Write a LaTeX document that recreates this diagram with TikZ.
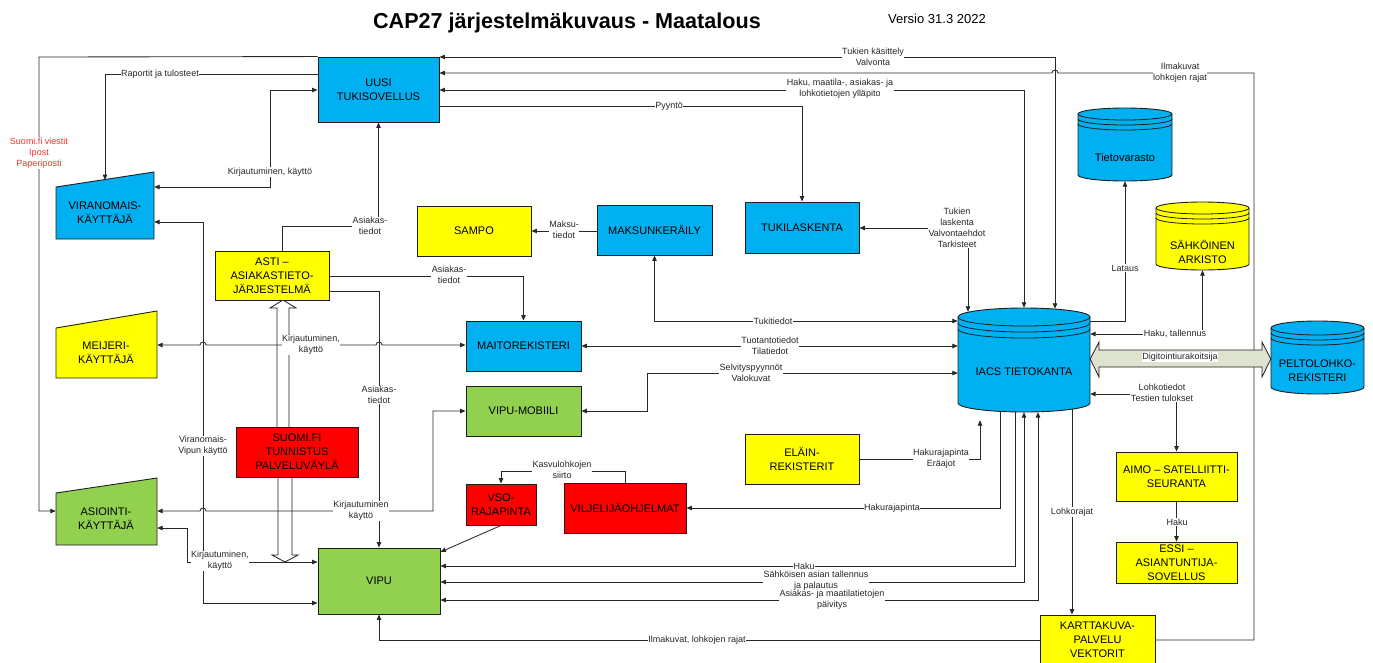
\documentclass[tikz,border=0pt]{standalone}
\usepackage{fontspec}
\setmainfont{Liberation Sans}
\usetikzlibrary{arrows.meta,calc}

\definecolor{cblue}{RGB}{0,176,240}
\definecolor{cyel}{RGB}{255,255,0}
\definecolor{cgreen}{RGB}{146,208,80}
\definecolor{cred}{RGB}{255,0,0}
\definecolor{cline}{RGB}{40,40,40}
\definecolor{cedge}{RGB}{30,30,30}
\definecolor{cdig}{RGB}{221,227,207}
\definecolor{cmsg}{RGB}{255,45,45}

\newcommand\boxfont{\fontsize{11}{14}\selectfont}
\newcommand\lblfont{\fontsize{9}{11}\selectfont}

\tikzset{
  sysbox/.style={draw=cedge, line width=0.9pt, inner sep=0pt, align=center, font=\boxfont, text=black},
  shapebox/.style={inner sep=0pt, draw=none},
  boxtext/.style={inner sep=0pt, align=center, font=\boxfont, text=black},
  conn/.style={draw=cline, line width=0.85pt},
  oneway/.style={-{Triangle[length=5.5pt,width=4.5pt]}},
  twoway/.style={{Triangle[length=5.5pt,width=4.5pt]}-{Triangle[length=5.5pt,width=4.5pt]}},
  lbl/.style={fill=white, inner sep=0.6pt, align=center, font=\lblfont, text=black!85},
}

\newcommand\dbcyl[8]{%
  \pgfmathsetmacro\cylrx{(#2-#1)/2}%
  \filldraw[fill=#6, draw=cedge, line width=0.9pt] (#1,#3+#5) -- (#1,#4-#5)
     arc[start angle=180, end angle=0, x radius=\cylrx, y radius=#5] -- (#2,#3+#5)
     arc[start angle=0, end angle=-180, x radius=\cylrx, y radius=#5] -- cycle;
  \draw[draw=cedge, line width=0.8pt] (#1,#3+#5) arc[start angle=180, end angle=0, x radius=\cylrx, y radius=#5];
  \draw[draw=cedge, line width=0.8pt] (#1,#3+#5+#7) arc[start angle=180, end angle=0, x radius=\cylrx, y radius=#5];
  \draw[draw=cedge, line width=0.8pt] (#1,#3+#5+#8) arc[start angle=180, end angle=0, x radius=\cylrx, y radius=#5];
}

\begin{document}
\begin{tikzpicture}[x=1pt,y=-1pt]
\useasboundingbox (0,0) rectangle (1373,662);

% title
\node[font=\fontsize{21.6}{24}\selectfont\bfseries] (title) at (567,23) {CAP27 järjestelmäkuvaus - Maatalous};
\node[font=\fontsize{13}{15}\selectfont] (versio) at (937,19) {Versio 31.3 2022};

% hollow arrows Suomi.fi
\filldraw[fill=white, draw=cedge, line width=0.8pt] (277,427) -- (277,308) -- (270,308) -- (283,300) -- (296,308) -- (289,308) -- (289,427);
\filldraw[fill=white, draw=cedge, line width=0.8pt] (278,477) -- (278,555) -- (272,555) -- (285,562) -- (298,555) -- (292,555) -- (292,477);

% rectangular boxes
\node[sysbox, fill=cblue, minimum width=121pt, minimum height=65pt] (uusi) at (378.5,89.5) {UUSI\\TUKISOVELLUS};
\node[sysbox, fill=cyel, minimum width=114pt, minimum height=50pt] (sampo) at (474,231) {SAMPO};
\node[sysbox, fill=cblue, minimum width=115pt, minimum height=50pt] (maksu) at (654.5,230) {MAKSUNKERÄILY};
\node[sysbox, fill=cblue, minimum width=114pt, minimum height=51pt] (tukil) at (802,227.5) {TUKILASKENTA};
\node[sysbox, fill=cyel, minimum width=114pt, minimum height=49pt] (asti) at (272,275.5) {ASTI –\\ASIAKASTIETO-\\JÄRJESTELMÄ};
\node[sysbox, fill=cblue, minimum width=115pt, minimum height=50pt] (maito) at (523.5,346) {MAITOREKISTERI};
\node[sysbox, fill=cgreen, minimum width=115pt, minimum height=50pt] (mobi) at (523.5,411) {VIPU-MOBIILI};
\node[sysbox, fill=cred, minimum width=122pt, minimum height=50pt] (suomi) at (297,452) {SUOMI.FI\\TUNNISTUS\\PALVELUVÄYLÄ};
\node[sysbox, fill=cred, minimum width=70pt, minimum height=41pt] (vso) at (501,504.5) {VSO-\\RAJAPINTA};
\node[sysbox, fill=cred, minimum width=122pt, minimum height=50pt] (vilj) at (625,508) {VILJELIJÄOHJELMAT};
\node[sysbox, fill=cgreen, minimum width=122pt, minimum height=66pt] (vipu) at (379,581) {VIPU};
\node[sysbox, fill=cyel, minimum width=114pt, minimum height=50pt] (elain) at (802,459) {ELÄIN-\\REKISTERIT};
\node[sysbox, fill=cyel, minimum width=121pt, minimum height=49pt] (aimo) at (1176.5,476.5) {AIMO – SATELLIITTI-\\SEURANTA};
\node[sysbox, fill=cyel, minimum width=121pt, minimum height=41pt] (essi) at (1176.5,562.5) {ESSI –\\ASIANTUNTIJA-\\SOVELLUS};
\node[sysbox, fill=cyel, minimum width=115pt, minimum height=50pt] (kartta) at (1097.5,640) {KARTTAKUVA-\\PALVELU\\VEKTORIT};

% user shapes (manual input)
\filldraw[fill=cblue, draw=cedge, line width=0.9pt] (56,187) -- (154,172) -- (154,239) -- (56,239) -- cycle;
\node[shapebox, minimum width=98pt, minimum height=67pt] (viran) at (105,205.5) {};
\node[boxtext] (viran-t) at (105,213) {VIRANOMAIS-\\KÄYTTÄJÄ};
\filldraw[fill=cyel, draw=cedge, line width=0.9pt] (56,328) -- (157,311) -- (157,378) -- (56,378) -- cycle;
\node[shapebox, minimum width=101pt, minimum height=67pt] (meijeri) at (106.5,344.5) {};
\node[boxtext] (meijeri-t) at (106,353) {MEIJERI-\\KÄYTTÄJÄ};
\filldraw[fill=cgreen, draw=cedge, line width=0.9pt] (56,493) -- (157,478) -- (157,545) -- (56,545) -- cycle;
\node[shapebox, minimum width=101pt, minimum height=67pt] (asioi) at (106.5,511.5) {};
\node[boxtext] (asioi-t) at (106,519) {ASIOINTI-\\KÄYTTÄJÄ};

% cylinders
\dbcyl{958}{1090}{308}{412}{9}{cblue}{6}{12}
\node[shapebox, minimum width=132pt, minimum height=104pt] (iacs) at (1024,360) {};
\node[boxtext] (iacs-t) at (1024,372) {IACS TIETOKANTA};
\dbcyl{1078}{1172}{108}{181}{6}{cblue}{5}{10}
\node[shapebox, minimum width=94pt, minimum height=73pt] (tieto) at (1125,144.5) {};
\node[boxtext] (tieto-t) at (1125,158) {Tietovarasto};
\dbcyl{1156}{1249}{202}{270}{6}{cyel}{5}{10}
\node[shapebox, minimum width=93pt, minimum height=68pt] (sahko) at (1202.5,236) {};
\node[boxtext] (sahko-t) at (1202.5,252) {SÄHKÖINEN\\ARKISTO};
\dbcyl{1271}{1364}{321}{394}{7}{cblue}{5}{10}
\node[shapebox, minimum width=93pt, minimum height=73pt] (pelto) at (1317.5,357.5) {};
\node[boxtext] (pelto-t) at (1317.5,370.5) {PELTOLOHKO-\\REKISTERI};

% connectors
\draw[conn,oneway] (uusi.north west) -- (39,57) -- (39,511) -- (asioi.west |- 0,511);
\draw[conn,oneway] (uusi.west |- 0,74) -- (105,74) -- (viran.north |- 0,180);
\draw[conn,twoway] (viran.east |- 0,187) -- (270,187) -- (270,90) -- (uusi.west |- 0,90);
\draw[conn,twoway] (viran.east |- 0,222) -- (203,222) -- (203,603) -- (vipu.west |- 0,603);
\draw[conn,oneway] (asti.north -| 282,0) -- (282,226) -- (378.5,226) -- (uusi.south);
\draw[conn,oneway] (maksu.west |- 0,231) -- (sampo.east |- 0,231);
\draw[conn,oneway] (uusi.east |- 0,106) -- (802,106) -- (tukil.north);
\draw[conn,twoway] (uusi.east |- 0,57) -- (1055,57) -- ($(iacs.north)+(31,1)$);
\draw[conn,oneway] (kartta.east |- 0,640) -- (1254,640) -- (1254,73) -- (1058,73)
   arc[start angle=0, end angle=-180, radius=3] -- (uusi.east |- 0,73);
\draw[conn,twoway] (uusi.east |- 0,90) -- (1024,90) -- (iacs.north);
\draw[conn,twoway] (tukil.east |- 0,228) -- (968,228) -- ($(iacs.north)+(-56,4)$);
\draw[conn,oneway] (iacs.east |- 0,321) -- (1125,321) -- (tieto.south);
\draw[conn,twoway] (sahko.south) -- (1202.5,334) -- (iacs.east |- 0,334);
\draw[conn,twoway] (maksu.south) -- (654.5,321) -- (iacs.west |- 0,321);
\draw[conn,twoway] (maito.east) -- (iacs.west |- maito.east);
\draw[conn,twoway] (iacs.west |- 0,373) -- (647,373) -- (647,411) -- (mobi.east);
\draw[conn,twoway] (iacs.east |- 0,394) -- (1176.5,394) -- (aimo.north);
\draw[conn,oneway] (aimo.south) -- (essi.north);
\draw[conn,oneway] ($(iacs.south)+(48,-3)$) -- (kartta.north -| 1072,0);
\draw[conn,twoway] ($(iacs.south)+(14,0)$) -- (1038,600) -- (vipu.east |- 0,600);
\draw[conn,twoway] (iacs.south) -- (1024,582) -- (vipu.east |- 0,582);
\draw[conn,oneway] ($(iacs.south)+(-9,0)$) -- (1015,566) -- (vipu.east |- 0,566);
\draw[conn,oneway] ($(iacs.south)+(-24,0)$) -- (1000,508) -- (vilj.east);
\draw[conn,oneway] (elain.east) -- (980,459) -- ($(iacs.south)+(-44,8)$);
\draw[conn,oneway] (vilj.north) -- (625,471) -- (501,471) -- (vso.north);
\draw[conn,oneway] (vso.south) -- (vipu.east |- 0,552);
\draw[conn,oneway] (asti.east |- 0,276) -- (523.5,276) -- (maito.north);
\draw[conn,oneway] (asti.east |- 0,291) -- (379,291) -- (vipu.north);
\draw[conn,twoway] (meijeri.east |- 0,345) -- (200,345) arc[start angle=180, end angle=360, radius=3]
   -- (376,345) arc[start angle=180, end angle=360, radius=3] -- (maito.west |- 0,345);
\draw[conn,twoway] (asioi.east |- 0,511) -- (200,511) arc[start angle=180, end angle=360, radius=3]
   -- (433,511) -- (433,411) -- (mobi.west);
\draw[conn,twoway] (asioi.east |- 0,528) -- (187,528) -- (187,562) -- (vipu.west |- 0,562);
\draw[conn,oneway] (kartta.west |- 0,640) -- (379,640) -- (vipu.south);

% Digitointi double arrow
\filldraw[fill=cdig, draw=cedge, line width=0.8pt] (iacs.east |- 0,359) -- (1099,342) -- (1099,350) -- (1262,350) -- (1262,342) -- (pelto.west |- 0,359) -- (1262,377) -- (1262,367) -- (1099,367) -- (1099,377) -- cycle;
\node[lbl] (l-dig) at (1180,357) {Digitointiurakoitsija};

% labels
\node[lbl, text=cmsg] (l-msg) at (39,153) {Suomi.fi viestit\\Ipost\\Paperiposti};
\node[lbl] (l1) at (160,74) {Raportit ja tulosteet};
\node[lbl] (l2) at (270,172) {Kirjautuminen, käyttö};
\node[lbl] (l3) at (203,446) {Viranomais-\\Vipun käyttö};
\node[lbl] (l4) at (370,226) {Asiakas-\\tiedot};
\node[lbl] (l5) at (564,230) {Maksu-\\tiedot};
\node[lbl] (l6) at (669,106) {Pyyntö};
\node[lbl] (l7) at (873,57) {Tukien käsittely\\Valvonta};
\node[lbl] (l8) at (1180,73) {Ilmakuvat\\lohkojen rajat};
\node[lbl] (l9) at (840,89) {Haku, maatila-, asiakas- ja\\lohkotietojen ylläpito};
\node[lbl] (l10) at (957,228) {Tukien\\laskenta\\Valvontaehdot\\Tarkisteet};
\node[lbl] (l11) at (1125,268) {Lataus};
\node[lbl] (l12) at (1175,334) {Haku, tallennus};
\node[lbl] (l13) at (773,321) {Tukitiedot};
\node[lbl] (l14) at (770,346) {Tuotantotiedot\\Tilatiedot};
\node[lbl] (l15) at (751,373) {Selvityspyynnöt\\Valokuvat};
\node[lbl] (l16) at (1162,393) {Lohkotiedot\\Testien tulokset};
\node[lbl] (l17) at (1177,522) {Haku};
\node[lbl] (l18) at (1072,512) {Lohkorajat};
\node[lbl] (l19) at (804,566) {Haku};
\node[lbl] (l20) at (816,581) {Sähköisen asian tallennus\\ja palautus};
\node[lbl] (l21) at (832,600) {Asiakas- ja maatilatietojen\\päivitys};
\node[lbl] (l22) at (892,508) {Hakurajapinta};
\node[lbl] (l23) at (941,459) {Hakurajapinta\\Eräajot};
\node[lbl] (l24) at (562,470) {Kasvulohkojen\\siirto};
\node[lbl] (l25) at (449,275) {Asiakas-\\tiedot};
\node[lbl] (l26) at (379,395) {Asiakas-\\tiedot};
\node[lbl] (l27) at (311,345) {Kirjautuminen,\\käyttö};
\node[lbl] (l28) at (361,511) {Kirjautuminen\\käyttö};
\node[lbl] (l29) at (220,561) {Kirjautuminen,\\käyttö};
\node[lbl] (l30) at (697,640) {Ilmakuvat, lohkojen rajat};
\end{tikzpicture}
\end{document}
